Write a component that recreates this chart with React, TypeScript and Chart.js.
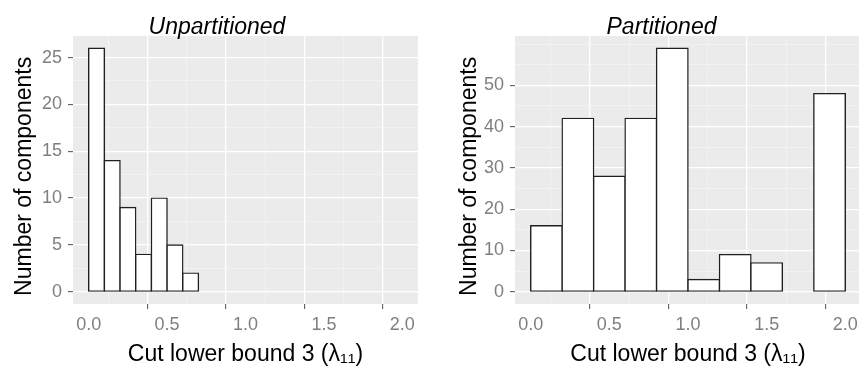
import React, { useEffect, useRef } from "react";
import { Chart, registerables } from "chart.js";

Chart.register(...registerables);

// ---- data ----
const unpartBinCenters = [0.05, 0.15, 0.25, 0.35, 0.45, 0.55, 0.65];
const unpartCounts = [26, 14, 9, 4, 10, 5, 2];

const partBinCenters = [0.1, 0.3, 0.5, 0.7, 0.9, 1.1, 1.3, 1.5, 1.9];
const partCounts = [16, 42, 28, 42, 59, 3, 9, 7, 48];

const xMajorTicks = [0, 0.5, 1.0, 1.5, 2.0];
const xMinorTicks = [0.25, 0.75, 1.25, 1.75];

const unpartYMajor = [0, 5, 10, 15, 20, 25];
const unpartYMinor = [2.5, 7.5, 12.5, 17.5, 22.5];

const partYMajor = [0, 10, 20, 30, 40, 50];
const partYMinor = [5, 15, 25, 35, 45, 55, 60];

const FONT = "'Liberation Sans', Arial, Helvetica, sans-serif";

const panelBg = {
  id: "panelBg",
  beforeDraw(chart: any) {
    const { ctx, chartArea } = chart;
    ctx.save();
    ctx.fillStyle = "#EBEBEB";
    ctx.fillRect(chartArea.left, chartArea.top, chartArea.right - chartArea.left, chartArea.bottom - chartArea.top);
    ctx.restore();
  },
};

type PanelProps = {
  title: string;
  centers: number[];
  counts: number[];
  yMajor: number[];
  yMinor: number[];
  yMin: number;
  yMax: number;
  width: number;
  yAxisWidth: number;
  yTitlePad: number;
  rightSpace: number;
};

function Panel(p: PanelProps) {
  const ref = useRef<HTMLCanvasElement>(null);
  useEffect(() => {
    const inList = (list: number[], v: number) => list.some((m) => Math.abs(m - v) < 1e-9);
    const tickVal = (ctx: any) => (ctx && ctx.tick ? ctx.tick.value : NaN);
    const isMajorY = (v: number) => inList(p.yMajor, v);
    const isMajorX = (v: number) => inList(xMajorTicks, v);
    const chart = new Chart(ref.current as HTMLCanvasElement, {
      type: "bar",
      data: {
        datasets: [
          {
            data: p.centers.map((c, i) => ({ x: c, y: p.counts[i] })),
            backgroundColor: "#FFFFFF",
            borderColor: "#1F1F1F",
            borderWidth: 1.4,
            inflateAmount: 0.7,
            borderSkipped: false,
            barPercentage: 1,
            categoryPercentage: 1,
            yAxisID: "y",
          } as any,
        ],
      },
      options: {
        animation: false,
        responsive: false,
        layout: { padding: 0 },
        plugins: {
          legend: { display: false },
          tooltip: { enabled: false },
          title: {
            display: true,
            text: p.title,
            color: "#000000",
            font: { family: FONT, size: 23, style: "italic", weight: "normal", lineHeight: 0.7 },
            padding: { top: 19.45, bottom: 0.45 },
          },
        },
        scales: {
          x: {
            type: "linear",
            min: -0.1,
            max: 2.1,
            offset: false,
            afterBuildTicks: (scale: any) => {
              scale.ticks = [...xMajorTicks, ...xMinorTicks].sort((a, b) => a - b).map((v) => ({ value: v }));
            },
            afterFit: (scale: any) => {
              scale.height = 64;
            },
            ticks: {
              autoSkip: false,
              maxRotation: 0,
              color: "#7F7F7F",
              padding: 5,
              font: { family: FONT, size: 18 },
              callback: (v: any) => (isMajorX(Number(v)) ? Number(v).toFixed(1) : ""),
            },
            grid: {
              color: (ctx: any) => (isMajorX(tickVal(ctx)) ? "#FFFFFF" : "#F5F5F5"),
              lineWidth: (ctx: any) => (isMajorX(tickVal(ctx)) ? 1.3 : 0.7),
              tickColor: (ctx: any) => (isMajorX(tickVal(ctx)) ? "#4D4D4D" : "rgba(0,0,0,0)"),
              tickWidth: 1,
              tickLength: 5,
            },
            border: { display: false },
            title: {
              display: true,
              text: "Cut lower bound 3 (λ₁₁)",
              color: "#000000",
              font: { family: FONT, size: 23, lineHeight: 1.0 },
              padding: { top: 0, bottom: 1.5 },
            },
          },
          y: {
            type: "linear",
            position: "left",
            min: p.yMin,
            max: p.yMax,
            afterBuildTicks: (scale: any) => {
              scale.ticks = [...p.yMajor, ...p.yMinor].sort((a, b) => a - b).map((v) => ({ value: v }));
            },
            afterFit: (scale: any) => {
              scale.width = p.yAxisWidth;
            },
            ticks: {
              autoSkip: false,
              color: "#7F7F7F",
              padding: 6,
              font: { family: FONT, size: 18 },
              callback: (v: any) => (isMajorY(Number(v)) ? String(v) : ""),
            },
            grid: {
              color: (ctx: any) => (isMajorY(tickVal(ctx)) ? "#FFFFFF" : "#F5F5F5"),
              lineWidth: (ctx: any) => (isMajorY(tickVal(ctx)) ? 1.3 : 0.7),
              tickColor: (ctx: any) => (isMajorY(tickVal(ctx)) ? "#4D4D4D" : "rgba(0,0,0,0)"),
              tickWidth: 1,
              tickLength: 5,
            },
            border: { display: false },
            title: {
              display: true,
              text: "Number of components  ",
              color: "#000000",
              font: { family: FONT, size: 23, lineHeight: 1.0 },
              padding: { top: p.yTitlePad, bottom: 0 },
            },
          },
          rightSpace: {
            type: "linear",
            position: "right",
            display: true,
            min: 0,
            max: 1,
            afterFit: (scale: any) => {
              scale.width = p.rightSpace;
            },
            ticks: { display: false },
            grid: { display: false, drawTicks: false },
            border: { display: false },
            title: { display: false },
          },
        },
      } as any,
      plugins: [panelBg],
    });
    return () => chart.destroy();
  }, []);
  return <canvas ref={ref} width={p.width} height={368} style={{ display: "block" }} />;
}

export default function App() {
  return (
    <div
      style={{
        position: "fixed",
        left: 0,
        top: 0,
        width: 859,
        height: 368,
        overflow: "hidden",
        background: "#FFFFFF",
      }}
    >
      <div style={{ position: "absolute", left: 0, top: 0 }}>
        <Panel
          title="Unpartitioned"
          centers={unpartBinCenters}
          counts={unpartCounts}
          yMajor={unpartYMajor}
          yMinor={unpartYMinor}
          yMin={-1.3}
          yMax={27.3}
          width={434}
          yAxisWidth={73}
          yTitlePad={13}
          rightSpace={16}
        />
      </div>
      <div style={{ position: "absolute", left: 430, top: 0 }}>
        <Panel
          title="Partitioned"
          centers={partBinCenters}
          counts={partCounts}
          yMajor={partYMajor}
          yMinor={partYMinor}
          yMin={-2.95}
          yMax={61.95}
          width={463}
          yAxisWidth={85}
          yTitlePad={28}
          rightSpace={32}
        />
      </div>
    </div>
  );
}
